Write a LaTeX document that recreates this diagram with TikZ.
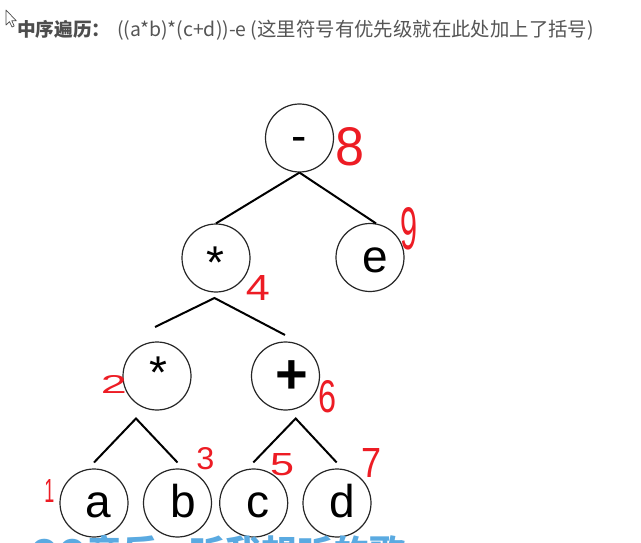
\documentclass[tikz,border=0pt]{standalone}
\usepackage{fontspec}
\usepackage{graphicx}
\setmainfont{Liberation Sans}
\newfontfamily\cjkf{Noto Sans CJK SC}
\newfontfamily\arialf{Liberation Sans}
\definecolor{txtgray}{RGB}{77,77,77}
\definecolor{txtgrayl}{RGB}{85,85,85}
\definecolor{hred}{RGB}{237,28,36}
\definecolor{wmblue}{RGB}{90,170,225}
\newcommand\hdig[3]{\resizebox{#1pt}{#2pt}{\arialf #3}}
\begin{document}
\begin{tikzpicture}[x=1pt,y=-1pt,
  tn/.style={circle, draw=black!85, line width=1.2pt, minimum size=68pt, inner sep=0pt},
  lt/.style={anchor=base, inner sep=0pt, font=\arialf\fontsize{46}{46}\selectfont},
  edge/.style={line width=2pt, black},
  hn/.style={anchor=base, inner sep=0pt, text=hred}]
\fill[white] (0,0) rectangle (641,543);
\useasboundingbox (0,0) rectangle (641,543);
\clip (0,0) rectangle (641,543);
% cursor
\draw[fill=white, draw=black!70, line width=0.7pt, line join=round] (6,10) -- (6,25) -- (9.5,21.7) -- (12,27) -- (14.2,26) -- (11.8,20.8) -- (16.3,20.8) -- cycle;
% heading
\node[anchor=base west, inner sep=0pt, text=txtgray, font=\cjkf\bfseries\fontsize{18.7}{20}\selectfont] (t1) at (17,36.5) {中序遍历：};
\node[anchor=base west, inner sep=0pt, text=txtgrayl, font=\cjkf\fontsize{19.4}{21}\selectfont] (t2) at (117,36.5) {((a*b)*(c+d))-e (这里符号有优先级就在此处加上了括号)};
% circles
\node[tn] (m)  at (299.5,138) {};
\node[tn] (s4) at (216,258) {};
\node[tn] (e)  at (370,257.5) {};
\node[tn] (s2) at (157,376) {};
\node[tn] (p)  at (285.5,376) {};
\node[tn] (a)  at (94,503) {};
\node[tn] (b)  at (177.5,503) {};
\node[tn] (c)  at (253.7,503) {};
\node[tn] (d)  at (337,503) {};
% labels
\node[lt] (mt)  at (299.5,151.5) {-};
\node[lt] (s4t) at (215,278) {*};
\node[lt] (et)  at (375.5,272) {e};
\node[lt] (s2t) at (158,388) {*};
\node[lt, font=\arialf\bfseries\fontsize{56}{56}\selectfont] (pt) at (292,393) {+};
\node[lt] (at) at (98,517) {a};
\node[lt] (bt) at (183,517) {b};
\node[lt] (ct) at (257.5,517) {c};
\node[lt] (dt) at (342,517) {d};
% connectors
\draw[edge] (m.south) -- (s4.north);
\draw[edge] (m.south) -- (e.80);
\coordinate (s4apex) at (214.5,298);
\coordinate (s4l) at (155,327);
\coordinate (s4r) at (285,335);
\draw[edge] (s4l) -- (s4apex) -- (s4r);
\coordinate (s2apex) at (136,418.5);
\coordinate (s2l) at (94,462.5);
\coordinate (s2r) at (177.5,462.5);
\draw[edge] (s2l) -- (s2apex) -- (s2r);
\coordinate (papex) at (295.7,418.5);
\coordinate (pl) at (253.3,462.5);
\coordinate (pr) at (336.7,462.5);
\draw[edge] (pl) -- (papex) -- (pr);
% red handwritten order numbers
\node[hn] (n8) at (350,165) {\hdig{29}{38}{8}};
\node[hn] (n9) at (409,249) {\hdig{17}{42}{9}};
\node[hn] (n4) at (258,300) {\hdig{24}{25}{4}};
\node[hn] (n2) at (114,393) {\hdig{26}{18}{2}};
\node[hn] (n6) at (327.5,412) {\hdig{18}{32}{6}};
\node[hn] (n3) at (205.5,469) {\hdig{18}{22}{3}};
\node[hn] (n5) at (282,475) {\hdig{24}{22}{5}};
\node[hn] (n7) at (371.5,477) {\hdig{20}{29}{7}};
\node[hn] (n1) at (49.5,502) {\hdig{10}{23}{1}};
% watermark (cut off at the lower edge, as in the reference)
\node[anchor=base west, inner sep=0pt, text=wmblue, font=\cjkf\bfseries\fontsize{36}{36}\selectfont] (wm) at (30,566) {QQ音乐 - 听我想听的歌};
\end{tikzpicture}
\end{document}
